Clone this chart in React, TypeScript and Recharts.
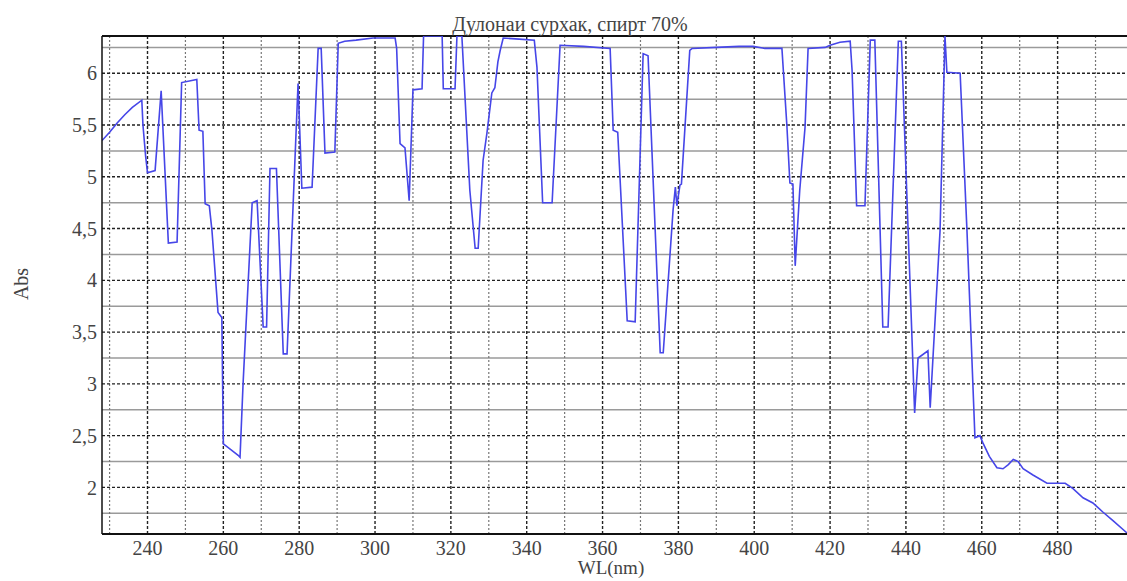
import React from 'react';
import { LineChart, Line, XAxis, YAxis, ReferenceLine } from 'recharts';

// Wavelength (nm) and absorbance
const wavelengths = [
  228, 230, 232, 234, 236, 238.5, 238.8, 239.5, 240, 242,
  243.6, 245.5, 247.8, 249, 253, 253.6, 254.6, 255.2, 256.3, 257,
  258.6, 259.6, 260, 261.8, 263.9, 264.4, 265.2, 267.6, 268.9, 270.5,
  271.4, 272.3, 274, 275.8, 276.8, 279.7, 280.7, 283.4, 285, 285.8,
  286.8, 289.4, 290.3, 292, 295, 299.5, 305.3, 305.7, 306.6, 307.9,
  309, 310, 312.4, 312.8, 317.7, 318, 321.1, 321.6, 322.9, 325,
  326.4, 327.2, 328.5, 329.5, 330.8, 331.6, 332.4, 333, 333.8, 338,
  342, 342.7, 344.2, 346.7, 348.8, 355, 362, 362.8, 364, 366.5,
  368.6, 370.7, 372, 375.2, 376, 378.6, 379.2, 379.6, 380.4, 380.8,
  383, 383.6, 390, 396, 399.7, 402.8, 407.3, 408.6, 409.4, 410.2,
  410.8, 412, 413.4, 414.2, 418.7, 420, 422.6, 425.3, 425.8, 427,
  429.2, 430.6, 431.8, 433.9, 435.3, 438, 438.8, 442.3, 443.2, 445.8,
  446.4, 449, 450.3, 450.8, 454.3, 456.1, 458.2, 459.5, 460.3,
  462, 464, 465.6, 467, 468.3, 469.6, 470.9, 473.5, 477.2, 479.8,
  482, 484, 486.7, 489.3, 492, 494.6, 498.3,
];
const absorbance = [
  5.35, 5.43, 5.52, 5.6, 5.67, 5.74, 5.5, 5.2, 5.04, 5.06,
  5.83, 4.36, 4.37, 5.91, 5.94, 5.45, 5.44, 4.74, 4.72, 4.48,
  3.69, 3.64, 2.42, 2.37, 2.31, 2.29, 3.0, 4.75, 4.77, 3.55,
  3.55, 5.08, 5.08, 3.29, 3.29, 5.9, 4.89, 4.9, 6.24, 6.24,
  5.23, 5.24, 6.29, 6.31, 6.32, 6.34, 6.34, 6.24, 5.32, 5.28,
  4.77, 5.84, 5.85, 6.36, 6.36, 5.85, 5.85, 6.36, 6.36, 4.87,
  4.31, 4.31, 5.16, 5.42, 5.81, 5.86, 6.11, 6.22, 6.34, 6.33,
  6.32, 6.06, 4.75, 4.75, 6.27, 6.26, 6.24, 5.45, 5.43, 3.61,
  3.6, 6.19, 6.17, 3.3, 3.3, 4.68, 4.9, 4.72, 4.92, 4.93,
  6.22, 6.24, 6.25, 6.26, 6.26, 6.24, 6.24, 5.5, 4.94, 4.93,
  4.14, 4.87, 5.48, 6.24, 6.25, 6.27, 6.3, 6.31, 6.03, 4.72,
  4.72, 6.32, 6.32, 3.55, 3.55, 6.31, 6.31, 2.72, 3.25, 3.32,
  2.77, 4.48, 6.36, 6.01, 6.0, 4.48, 2.48, 2.5, 2.43,
  2.3, 2.19, 2.18, 2.22, 2.27, 2.25, 2.18, 2.12, 2.04, 2.04,
  2.04, 1.99, 1.9, 1.85, 1.76, 1.68, 1.56,
];

const xTicks = [240, 260, 280, 300, 320, 340, 360, 380, 400, 420, 440, 460, 480];
const xMinorGrid = [230, 250, 270, 290, 310, 330, 350, 370, 390, 410, 430, 450, 470, 490];
const yTicks = [2, 2.5, 3, 3.5, 4, 4.5, 5, 5.5, 6];
const yMinorGrid = [1.75, 2.25, 2.75, 3.25, 3.75, 4.25, 4.75, 5.25, 5.75, 6.25];
const xDomain = [228, 498.3];
const yDomain = [1.55, 6.36];

const titleText = 'Дулонаи сурхак, спирт 70%';
const xLabel = 'WL(nm)';
const yLabel = 'Abs';

const data = wavelengths.map((wl, i) => ({ wl, abs: absorbance[i] }));

const FONT = "'Liberation Serif', 'DejaVu Serif', serif";
const tickStyle = { fontFamily: FONT, fontSize: 20, fill: '#444' };

export default function App() {
  return (
    <div style={{ position: 'absolute', left: 0, top: 0, width: 1127, height: 581, background: '#fff', overflow: 'hidden', fontFamily: FONT }}>
      <LineChart width={1127} height={581} data={data} margin={{ top: 36, right: 0, bottom: 0, left: 0 }} style={{ fontFamily: FONT }}>
        <XAxis
          dataKey="wl"
          type="number"
          domain={xDomain}
          ticks={xTicks}
          allowDataOverflow
          height={47}
          tickSize={0}
          tickMargin={7}
          tick={tickStyle}
          axisLine={{ stroke: '#111', strokeWidth: 2 }}
          tickLine={false}
        />
        <YAxis
          dataKey="abs"
          type="number"
          domain={yDomain}
          ticks={yTicks}
          allowDataOverflow
          width={102}
          tickSize={0}
          tickMargin={5}
          tick={tickStyle}
          tickFormatter={(v: number) => String(v).replace('.', ',')}
          axisLine={{ stroke: '#111', strokeWidth: 1.5 }}
          tickLine={false}
        />
        {yMinorGrid.map((v) => (
          <ReferenceLine key={'ym' + v} y={v} stroke="#9a9a9a" strokeWidth={1.5} ifOverflow="hidden" />
        ))}
        {xMinorGrid.map((v) => (
          <ReferenceLine key={'xm' + v} x={v} stroke="#777" strokeWidth={1.2} strokeDasharray="2 2" ifOverflow="hidden" />
        ))}
        {xTicks.map((v) => (
          <ReferenceLine key={'xM' + v} x={v} stroke="#222" strokeWidth={1.4} strokeDasharray="3 2" ifOverflow="hidden" />
        ))}
        {yTicks.map((v) => (
          <ReferenceLine key={'yM' + v} y={v} stroke="#222" strokeWidth={1.4} strokeDasharray="3 2" ifOverflow="hidden" />
        ))}
        <ReferenceLine y={yDomain[1]} stroke="#111" strokeWidth={2} ifOverflow="extendDomain" />
        <Line
          type="linear"
          dataKey="abs"
          stroke="#4646e8"
          strokeWidth={1.6}
          dot={false}
          activeDot={false}
          isAnimationActive={false}
        />
      </LineChart>
      <div style={{ position: 'absolute', left: 570, top: 14, transform: 'translateX(-50%)', fontFamily: FONT, fontSize: 20, color: '#444', whiteSpace: 'nowrap', lineHeight: 1 }}>
        {titleText}
      </div>
      <div style={{ position: 'absolute', left: 611, top: 558, transform: 'translateX(-50%)', fontFamily: FONT, fontSize: 19, color: '#444', whiteSpace: 'nowrap', lineHeight: 1 }}>
        {xLabel}
      </div>
      <div style={{ position: 'absolute', left: 21, top: 284, transform: 'translate(-50%, -50%) rotate(-90deg)', fontFamily: FONT, fontSize: 20, color: '#444', whiteSpace: 'nowrap', lineHeight: 1 }}>
        {yLabel}
      </div>
    </div>
  );
}
